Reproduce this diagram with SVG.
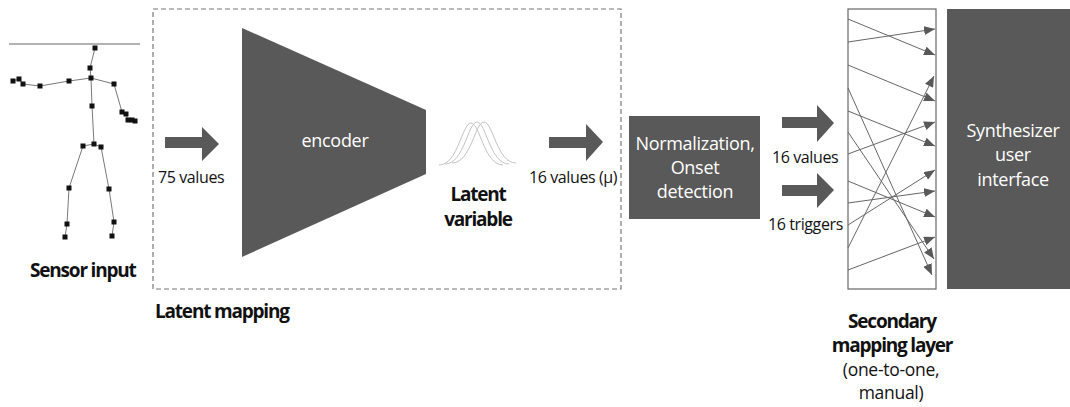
<svg xmlns="http://www.w3.org/2000/svg" width="1070" height="407" viewBox="0 0 1070 407">
  <style>
    .lbl { font-family: "Open Sans", "DejaVu Sans", sans-serif; font-size: 16px; fill: #111; letter-spacing: -0.4px; }
    .note { font-family: "Open Sans", "DejaVu Sans", sans-serif; font-size: 17.5px; fill: #111; letter-spacing: -0.3px; text-anchor: middle; }
    .bold { font-family: "Open Sans", "DejaVu Sans", sans-serif; font-size: 19px; font-weight: bold; fill: #111; letter-spacing: -1.2px; }
    .inner { font-family: "Open Sans", "DejaVu Sans", sans-serif; font-size: 18px; fill: #fff; text-anchor: middle; letter-spacing: -0.3px; }
    .block { fill: #595959; }
    .bone { stroke: #555; stroke-width: 0.8; fill: none; }
    .joint { fill: #111; }
    .map { stroke: #666; stroke-width: 1; fill: none; marker-end: url(#tip); }
    .bell { stroke: #bbb; stroke-width: 0.9; fill: none; }
  </style>
  <defs>
    <marker id="tip" viewBox="0 0 11 9" refX="11" refY="4.5" markerWidth="11" markerHeight="9" markerUnits="userSpaceOnUse" orient="auto">
      <path d="M0,0 L11,4.5 L0,9 Z" fill="#595959"/>
    </marker>
  </defs>

  <rect width="1070" height="407" fill="#fff"/>

  <!-- Sensor input: skeleton figure -->
  <g id="sensor-input">
    <line x1="9" y1="44" x2="140" y2="44" stroke="#666" stroke-width="1"/>
    <polyline class="bone" points="95,48 90,68 91,78 69,81 40,86 23,84 19,79 13,81"/>
    <polyline class="bone" points="91,78 114,84 122,112 126,114 128,120 132,120 135,121"/>
    <polyline class="bone" points="91,78 92,106 94,144"/>
    <polyline class="bone" points="94,144 83,146 69,188 67,224 65,237"/>
    <polyline class="bone" points="94,144 101,147 109,189 114,222 112,236"/>
    <g class="joint">
      <rect x="92.5" y="45.5" width="5" height="5"/>
      <rect x="87.5" y="65.5" width="5" height="5"/>
      <rect x="88.5" y="75.5" width="5" height="5"/>
      <rect x="66.5" y="78.5" width="5" height="5"/>
      <rect x="37.5" y="83.5" width="5" height="5"/>
      <rect x="20.5" y="81.5" width="5" height="5"/>
      <rect x="16.5" y="76.5" width="5" height="5"/>
      <rect x="10.5" y="78.5" width="5" height="5"/>
      <rect x="111.5" y="81.5" width="5" height="5"/>
      <rect x="119.5" y="109.5" width="5" height="5"/>
      <rect x="123.5" y="111.5" width="5" height="5"/>
      <rect x="125.5" y="117.5" width="5" height="5"/>
      <rect x="129.5" y="117.5" width="5" height="5"/>
      <rect x="132.5" y="118.5" width="5" height="5"/>
      <rect x="89.5" y="103.5" width="5" height="5"/>
      <rect x="91.5" y="141.5" width="5" height="5"/>
      <rect x="80.5" y="143.5" width="5" height="5"/>
      <rect x="98.5" y="144.5" width="5" height="5"/>
      <rect x="66.5" y="185.5" width="5" height="5"/>
      <rect x="106.5" y="186.5" width="5" height="5"/>
      <rect x="64.5" y="221.5" width="5" height="5"/>
      <rect x="111.5" y="219.5" width="5" height="5"/>
      <rect x="62.5" y="234.5" width="5" height="5"/>
      <rect x="109.5" y="233.5" width="5" height="5"/>
    </g>
    <text class="bold" x="30" y="277">Sensor input</text>
  </g>

  <!-- Latent mapping (dashed frame) -->
  <g id="latent-mapping">
    <rect x="153" y="9" width="468" height="280" fill="none" stroke="#777" stroke-width="1.2" stroke-dasharray="5 3"/>
    <text class="bold" x="155" y="318">Latent mapping</text>
  </g>

  <!-- Encoder -->
  <g id="encoder">
    <polygon class="block" points="242,28 426,110 426,174 242,257"/>
    <text class="inner" x="335" y="147">encoder</text>
  </g>

  <!-- Latent variable -->
  <g id="latent-variable">
    <path class="bell" d="M439,165 C458,165 462,123 471,123 C480,123 484,165 503,165"/>
    <path class="bell" d="M445,164 C464,164 468,122 477,122 C486,122 490,164 509,164"/>
    <path class="bell" d="M452,163 C471,163 475,122 484,122 C493,122 497,163 516,163"/>
    <text class="bold" x="478" y="201" text-anchor="middle">Latent</text>
    <text class="bold" x="478" y="226" text-anchor="middle">variable</text>
  </g>

  <!-- Normalization / onset detection -->
  <g id="normalization">
    <rect class="block" x="629" y="116" width="131" height="103"/>
    <text class="inner" x="695" y="150">Normalization,</text>
    <text class="inner" x="695" y="174">Onset</text>
    <text class="inner" x="695" y="198">detection</text>
  </g>

  <!-- Secondary mapping layer -->
  <g id="secondary-mapping">
    <rect x="848" y="9" width="88" height="280" fill="#fff" stroke="#666" stroke-width="1.2"/>
    <text class="bold" x="892" y="328" text-anchor="middle">Secondary</text>
    <text class="bold" x="892" y="352" text-anchor="middle">mapping layer</text>
    <text class="note" x="891" y="376">(one-to-one,</text>
    <text class="note" x="891" y="399">manual)</text>
  </g>

  <!-- Synthesizer user interface -->
  <g id="synthesizer">
    <rect class="block" x="947" y="9" width="123" height="280"/>
    <text class="inner" x="1013" y="137">Synthesizer</text>
    <text class="inner" x="1013" y="161">user</text>
    <text class="inner" x="1013" y="186">interface</text>
  </g>

  <!-- Connectors -->
  <g id="connectors">
    <!-- block arrows -->
    <polygon class="block" points="165,137 202,137 202,127 219,144 202,161 202,148 165,148"/>
    <text class="lbl" x="158" y="183">75 values</text>
    <polygon class="block" points="549,137 586,137 586,124 603,142 586,161 586,148 549,148"/>
    <text class="lbl" x="529" y="183">16 values (µ)</text>
    <polygon class="block" points="782,117 817,117 817,105 834,123 817,142 817,128 782,128"/>
    <text class="lbl" x="772" y="163">16 values</text>
    <polygon class="block" points="782,185 817,185 817,173 834,190 817,208 817,196 782,196"/>
    <text class="lbl" x="768" y="230">16 triggers</text>

    <!-- one-to-one routing inside the secondary mapping layer -->
    <line class="map" x1="848" y1="19" x2="935" y2="55"/>
    <line class="map" x1="848" y1="42" x2="935" y2="29"/>
    <line class="map" x1="848" y1="65" x2="935" y2="101"/>
    <line class="map" x1="848" y1="88" x2="932" y2="275"/>
    <line class="map" x1="848" y1="111" x2="935" y2="146"/>
    <line class="map" x1="848" y1="132" x2="934" y2="259"/>
    <line class="map" x1="848" y1="154" x2="935" y2="122"/>
    <line class="map" x1="848" y1="181" x2="935" y2="217"/>
    <line class="map" x1="848" y1="203" x2="935" y2="191"/>
    <line class="map" x1="848" y1="225" x2="935" y2="170"/>
    <line class="map" x1="848" y1="248" x2="934" y2="76"/>
    <line class="map" x1="848" y1="270" x2="935" y2="237"/>
  </g>
</svg>
